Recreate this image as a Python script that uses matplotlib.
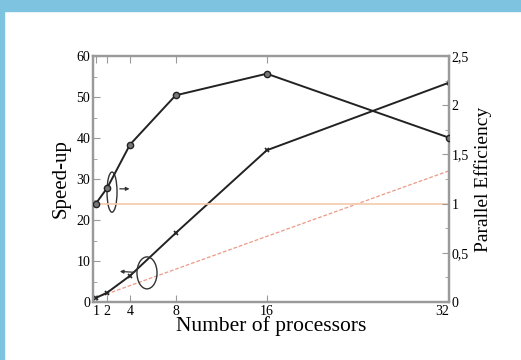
import numpy as np
import matplotlib.pyplot as plt
from matplotlib.patches import Ellipse
from matplotlib.ticker import FuncFormatter, MultipleLocator

plt.rcParams["font.family"] = ["Liberation Serif", "DejaVu Serif"]

procs = [1, 2, 4, 8, 16, 32]
speedup = [1.0, 2.3, 6.4, 16.8, 37.0, 53.5]
efficiency = [1.0, 1.16, 1.6, 2.1, 2.32, 1.67]
x_ticks = [1, 2, 4, 8, 16, 32]

fig = plt.figure(figsize=(5.21, 3.6), dpi=100)
fig.patch.set_facecolor("white")
# blue frame around the picture
fig.patches.append(plt.Rectangle((0, 1 - 11 / 360), 1, 11 / 360, transform=fig.transFigure,
                                 color="#7ec3e0", zorder=0))
fig.patches.append(plt.Rectangle((0, 0), 4 / 521, 1, transform=fig.transFigure,
                                 color="#7ec3e0", zorder=0))

ax = fig.add_axes([93 / 521, 1 - 302 / 360, (449 - 93) / 521, (302 - 56) / 360])
ax2 = ax.twinx()

grey = "#9a9a9a"
for a in (ax, ax2):
    for s in a.spines.values():
        s.set_color(grey)
        s.set_linewidth(1.6)

# reference lines
ax.plot([1, 32], [1, 32], color="#e8806a", lw=0.9, ls=(0, (3, 1.5)), alpha=0.8, zorder=1)
ax2.axhline(1.0, color="#f5c9ab", lw=1.2, zorder=1)

ax.plot(procs, speedup, color="#222222", lw=1.4, marker="x", ms=3.5, mew=1.2, zorder=3)
ax2.plot(procs, efficiency, color="#222222", lw=1.4, marker="o", ms=4.5,
         mfc="#777777", mec="#222222", zorder=3)

# ellipses with arrows pointing to the matching axis
ax.add_patch(Ellipse((2.42, 26.8), 0.88, 9.8, fill=False, ec="#333333", lw=1.0, zorder=4))
ax.annotate("", xy=(4.2, 27.6), xytext=(2.86, 27.6),
            arrowprops=dict(arrowstyle="-|>", color="#333333", lw=0.9, mutation_scale=5))
ax.add_patch(Ellipse((5.49, 7.1), 1.76, 7.8, fill=False, ec="#333333", lw=1.0, zorder=4))
ax.annotate("", xy=(2.86, 7.5), xytext=(4.65, 7.2),
            arrowprops=dict(arrowstyle="-|>", color="#333333", lw=0.9, mutation_scale=5))

ax.set_xlim(0.75, 32)
ax.set_ylim(0, 60)
ax2.set_ylim(0, 2.5)

ax.set_xticks(x_ticks)
ax.set_xticklabels([str(v) for v in x_ticks])
ax.yaxis.set_major_locator(MultipleLocator(10))
ax.yaxis.set_minor_locator(MultipleLocator(5))
ax2.yaxis.set_major_locator(MultipleLocator(0.5))
ax2.yaxis.set_minor_locator(MultipleLocator(0.25))
ax2.yaxis.set_major_formatter(FuncFormatter(lambda v, p: f"{v:g}".replace(".", ",")))

ax.tick_params(axis="both", which="both", direction="in", color=grey, labelsize=10,
               top=True, pad=2)
ax.tick_params(axis="y", which="major", length=5)
ax.tick_params(axis="y", which="minor", length=3)
ax.tick_params(axis="x", length=5)
ax2.tick_params(axis="y", which="both", direction="in", color=grey, labelsize=10, pad=2)
ax2.tick_params(axis="y", which="major", length=5)
ax2.tick_params(axis="y", which="minor", length=3)

# "32" sits left of its tick so it does not run into the right-hand "0"
ax.get_xticklabels()[-1].set_horizontalalignment("right")

ax.set_xlabel("Number of processors", fontsize=15.5, labelpad=-1)
ax.set_ylabel("Speed-up", fontsize=15, labelpad=4)
ax2.set_ylabel("Parallel Efficiency", fontsize=14, labelpad=4)

fig.savefig("out.png", dpi=100)
